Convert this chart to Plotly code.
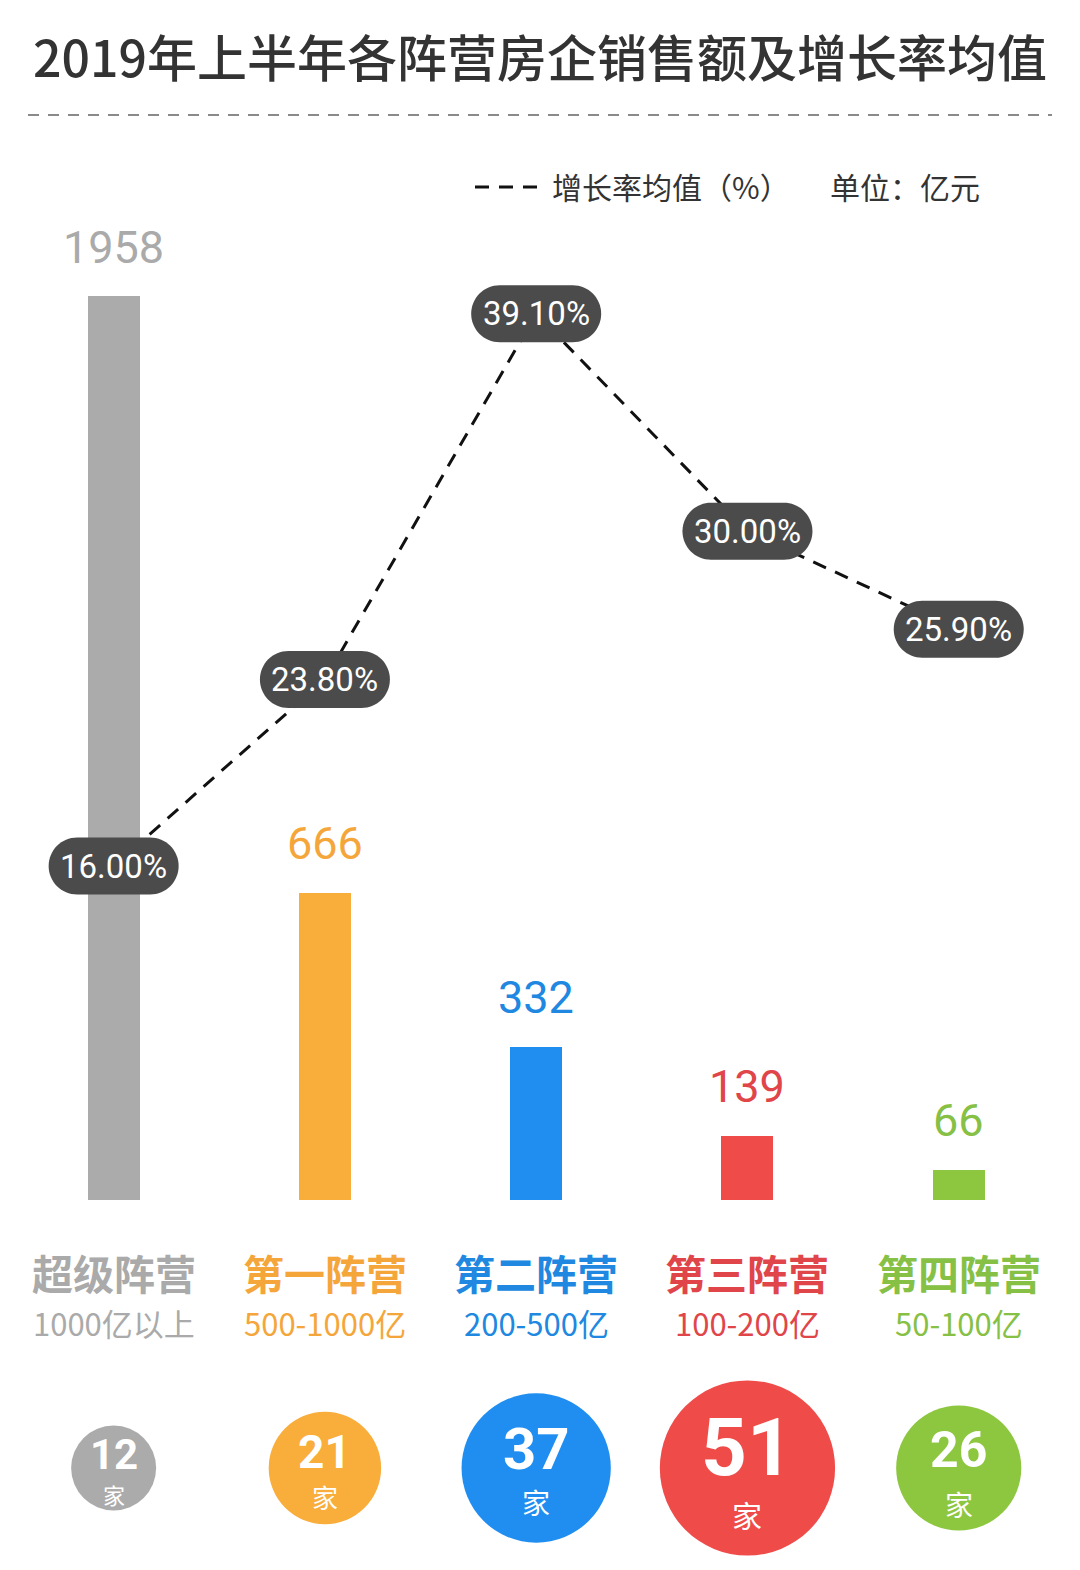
import plotly.graph_objects as go

# 2019 H1 sales by developer tier, avg growth rate and company count
camps = ["超级阵营", "第一阵营", "第二阵营", "第三阵营", "第四阵营"]
ranges = ["1000亿以上", "500-1000亿", "200-500亿", "100-200亿", "50-100亿"]
sales = [1958, 666, 332, 139, 66]           # 亿元
growth = [16.00, 23.80, 39.10, 30.00, 25.90]  # %
counts = [12, 21, 37, 51, 26]                 # 家

COLORS = ["#ababab", "#f9ad3b", "#1f8ef0", "#ee4b49", "#8dc63f"]
LABEL_COLORS = ["#aaaaaa", "#f5a63a", "#2088e0", "#e0454a", "#86c045"]
PILL_COLOR = "#4b4b4b"
CJK = "Noto Sans CJK SC"
NUM = "Roboto"

# the page body has an 8px margin, so the figure is drawn 8px in from the corner
OFF = 8
W, H = 1080 - OFF, 1570 - OFF
SIZEREF = 2 * 12 / 85 ** 2            # 12 companies -> 85px circle
NUM_FONT = [42, 46, 58, 80, 50]       # count inside each circle
NUM_SHIFT = [14, 16, 19, 20, 18]
UNIT_FONT = [22, 26, 28, 30, 28]      # "家" below the count
UNIT_SHIFT = [-26, -28, -34, -46, -36]

idx = list(range(len(camps)))


def py(px):
    """screen row (from top) -> paper y"""
    return (H - (px - OFF)) / H


def pxx(px):
    """screen column -> paper x"""
    return (px - OFF) / W


def pill_path(half_w=65, half_h=28.5):
    k = 0.5523
    r = half_h
    a = half_w - r
    return (
        f"M{-a},{-r} L{a},{-r} "
        f"C{a + k * r},{-r} {half_w},{-k * r} {half_w},0 "
        f"C{half_w},{k * r} {a + k * r},{r} {a},{r} "
        f"L{-a},{r} "
        f"C{-a - k * r},{r} {-half_w},{k * r} {-half_w},0 "
        f"C{-half_w},{-k * r} {-a - k * r},{-r} {-a},{-r} Z"
    )


fig = go.Figure()

fig.add_trace(go.Bar(
    x=idx, y=sales, width=0.246, marker=dict(color=COLORS, line=dict(width=0)),
    hoverinfo="skip", showlegend=False,
))

fig.add_trace(go.Scatter(
    x=idx, y=growth, yaxis="y2", mode="lines",
    line=dict(color="#111111", width=3, dash="14px,10px"),
    hoverinfo="skip", showlegend=False,
))

fig.add_trace(go.Scatter(
    x=idx, y=[0] * len(idx), yaxis="y3", mode="markers",
    marker=dict(size=counts, sizemode="area", sizeref=SIZEREF, color=COLORS,
                opacity=1, line=dict(width=0)),
    hoverinfo="skip", showlegend=False,
))

shapes = []
annotations = []


def note(text, x, y, xref="paper", yref="paper", xanchor="center", **kw):
    annotations.append(dict(text=text, x=x, y=y, xref=xref, yref=yref, xanchor=xanchor,
                            yanchor="middle", showarrow=False, **kw))


# title + dashed separator
note("2019年上半年各阵营房企销售额及增长率均值", pxx(540), py(55),
     font=dict(family=CJK, size=50, color="#333333", weight=500))
shapes.append(dict(
    type="line", xref="paper", yref="paper", x0=pxx(28), x1=pxx(1052), y0=py(115), y1=py(115),
    line=dict(color="#8a8a8a", width=2, dash="11px,9px"),
))

# legend row
shapes.append(dict(
    type="line", xref="paper", yref="paper", x0=pxx(475), x1=pxx(537), y0=py(187), y1=py(187),
    line=dict(color="#111111", width=3, dash="14px,10px"),
))
note("增长率均值（%）", pxx(550), py(186), xanchor="left",
     font=dict(family=CJK, size=30, color="#333333"))
note("单位：亿元", pxx(828), py(186), xanchor="left",
     font=dict(family=CJK, size=30, color="#333333"))

for i in idx:
    # sales value above bar
    note(str(sales[i]), i, sales[i], xref="x", yref="y", yshift=49,
         font=dict(family=NUM, size=45, color=LABEL_COLORS[i]))
    # growth pill
    shapes.append(dict(
        type="path", xsizemode="pixel", ysizemode="pixel", xref="x", yref="y2",
        xanchor=i, yanchor=growth[i], path=pill_path(),
        fillcolor=PILL_COLOR, line=dict(width=0), layer="above",
    ))
    note(f"{growth[i]:.2f}%", i, growth[i], xref="x", yref="y2",
         font=dict(family=NUM, size=33, color="white"))
    # category labels
    note(camps[i], i, py(1272), xref="x",
         font=dict(family=CJK, size=41, color=LABEL_COLORS[i], weight="bold"))
    note(ranges[i], i, py(1322), xref="x",
         font=dict(family=CJK, size=31, color=LABEL_COLORS[i]))
    # count inside circle
    note(f"<b>{counts[i]}</b>", i, 0, xref="x", yref="y3", yshift=NUM_SHIFT[i],
         font=dict(family=NUM, size=NUM_FONT[i], color="white"))
    note("家", i, 0, xref="x", yref="y3", yshift=UNIT_SHIFT[i],
         font=dict(family=CJK, size=UNIT_FONT[i], color="white"))

fig.update_layout(
    width=W, height=H, margin=dict(l=0, r=0, t=0, b=0),
    paper_bgcolor="white", plot_bgcolor="white",
    xaxis=dict(range=[-0.500, 4.574], visible=False, fixedrange=True),
    yaxis=dict(domain=[py(1200), py(200)], range=[0, 2166], visible=False),
    yaxis2=dict(overlaying="y", range=[2.03, 43.86], visible=False),
    yaxis3=dict(domain=[0, py(1366)], range=[-1, 1], visible=False, anchor="x"),
    shapes=shapes, annotations=annotations,
    bargap=0, showlegend=False,
)

fig.write_html("out.html")
